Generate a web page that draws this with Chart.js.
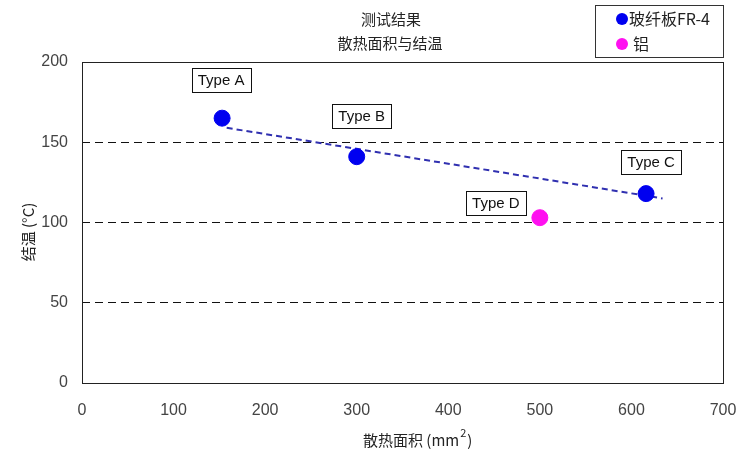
<!DOCTYPE html>
<html>
<head>
<meta charset="utf-8">
<script src="https://cdn.jsdelivr.net/npm/chart.js@4.4.1/dist/chart.umd.min.js"></script>
<style>
  html, body { margin: 0; padding: 0; background: #fff; }
  #wrap { width: 740px; height: 454px; }
</style>
</head>
<body>
<div id="wrap"><canvas id="heatChart" width="740" height="454"></canvas></div>
<script>
// data
const fr4Labels = ["Type A", "Type B", "Type C"];
const fr4X = [153, 300, 616];
const fr4Y = [165, 141, 118];
const alLabels = ["Type D"];
const alX = [500];
const alY = [103];
const trendX = [158, 634];
const trendY = [159, 115];
const seriesNames = ["玻纤板FR-4", "铝"];
const titleLines = ["测试结果", "散热面积与结温"];
const xTicks = [0, 100, 200, 300, 400, 500, 600, 700];
const yTicks = [0, 50, 100, 150, 200];

// label box offsets from each point (px)
const fr4Offsets = [[-1, -38], [5, -41], [5, -32]];
const alOffsets = [[-44, -15]];

const blue = "#0000f0";
const pink = "#ff10f0";
const font = "'Noto Sans CJK SC', 'Noto Sans', sans-serif";
const numFont = "'Liberation Sans', Arial, sans-serif";

function toPoints(xs, ys) {
	return xs.map(function(x, i){ return {x: x, y: ys[i]}; });
}

const extras = {
	id: "extras",
	beforeDatasetsDraw: function(chart){
		const ctx = chart.ctx;
		const a = chart.chartArea;
		ctx.save();
		ctx.strokeStyle = "#222";
		ctx.lineWidth = 1;
		ctx.strokeRect(a.left + 0.5, a.top + 0.5, a.right - a.left, a.bottom - a.top);
		ctx.restore();
	},
	afterDraw: function(chart){
		const ctx = chart.ctx;
		ctx.save();
		ctx.fillStyle = "#222";
		ctx.textAlign = "center";
		ctx.textBaseline = "middle";
		ctx.font = "15px " + font;
		ctx.fillText(titleLines[0], 391, 19);
		ctx.fillText(titleLines[1], 390, 43);

		// axis titles
		ctx.font = "15px " + font;
		ctx.textAlign = "left";
		ctx.fillText("散热面积 (mm", 363, 440);
		let w = ctx.measureText("散热面积 (mm").width;
		ctx.font = "11px " + font;
		ctx.fillText("2", 363 + w + 1, 433);
		ctx.font = "15px " + font;
		ctx.fillText(")", 363 + w + 8, 440);

		ctx.save();
		ctx.translate(28, 232);
		ctx.rotate(-Math.PI / 2);
		ctx.textAlign = "center";
		ctx.fillText("结温 (°C)", 0, 0);
		ctx.restore();

		// point labels
		const groups = [[0, fr4Labels, fr4Offsets], [1, alLabels, alOffsets]];
		ctx.font = "15px " + numFont;
		ctx.textAlign = "center";
		groups.forEach(function(g){
			const meta = chart.getDatasetMeta(g[0]);
			g[1].forEach(function(txt, i){
				const p = meta.data[i];
				const cx = p.x + g[2][i][0];
				const cy = p.y + g[2][i][1];
				const bw = ctx.measureText(txt).width + 12;
				const bh = 24;
				ctx.fillStyle = "#fff";
				ctx.fillRect(cx - bw / 2, cy - bh / 2, bw, bh);
				ctx.strokeStyle = "#111";
				ctx.lineWidth = 1;
				ctx.strokeRect(Math.round(cx - bw / 2) + 0.5, Math.round(cy - bh / 2) + 0.5, Math.round(bw), bh);
				ctx.fillStyle = "#111";
				ctx.fillText(txt, cx, cy + 1);
			});
		});

		// legend
		ctx.fillStyle = "#fff";
		ctx.fillRect(595, 5, 128, 52);
		ctx.strokeStyle = "#333";
		ctx.strokeRect(595.5, 5.5, 128, 52);
		ctx.font = "16px " + font;
		ctx.textAlign = "left";
		[blue, pink].forEach(function(c, i){
			const ly = 19 + i * 25;
			ctx.fillStyle = c;
			ctx.beginPath();
			ctx.arc(622, ly, 6, 0, Math.PI * 2);
			ctx.fill();
			ctx.fillStyle = "#222";
			ctx.fillText(seriesNames[i], i === 0 ? 629 : 633, ly);
		});
		ctx.restore();
	}
};

new Chart("heatChart", {
	type: "scatter",
	data: {
		datasets: [
			{
				label: seriesNames[0],
				data: toPoints(fr4X, fr4Y),
				backgroundColor: blue,
				borderColor: blue,
				pointRadius: 8,
				pointHoverRadius: 8
			},
			{
				label: seriesNames[1],
				data: toPoints(alX, alY),
				backgroundColor: pink,
				borderColor: pink,
				pointRadius: 8,
				pointHoverRadius: 8
			},
			{
				type: "line",
				label: "trend",
				data: toPoints(trendX, trendY),
				borderColor: "#3030b0",
				borderWidth: 2,
				borderDash: [6, 4],
				pointRadius: 0,
				fill: false
			}
		]
	},
	options: {
		responsive: false,
		animation: false,
		events: [],
		layout: { padding: { left: 0, top: 62, right: 17, bottom: 0 } },
		plugins: {
			legend: { display: false },
			title: { display: false },
			tooltip: { enabled: false }
		},
		scales: {
			x: {
				type: "linear",
				min: 0,
				max: 700,
				afterFit: function(s){ s.height = 71; s.paddingLeft = 0; s.paddingRight = 0; },
				afterBuildTicks: function(s){ s.ticks = xTicks.map(function(v){ return {value: v}; }); },
				grid: { display: false, drawTicks: false },
				border: { display: false },
				ticks: { color: "#444", padding: 18, font: { size: 16, family: numFont } }
			},
			y: {
				type: "linear",
				min: 0,
				max: 200,
				afterFit: function(s){ s.width = 82; s.paddingTop = 0; s.paddingBottom = 0; },
				afterBuildTicks: function(s){ s.ticks = yTicks.map(function(v){ return {value: v}; }); },
				grid: {
					drawTicks: false,
					color: function(c){ return (c.tick && (c.tick.value === 0 || c.tick.value === 200)) ? "rgba(0,0,0,0)" : "#111"; },
					lineWidth: 1
				},
				border: { display: false, dash: [8, 5] },
				ticks: { color: "#444", padding: 14, font: { size: 16, family: numFont } }
			}
		}
	},
	plugins: [extras]
});
</script>
</body>
</html>
